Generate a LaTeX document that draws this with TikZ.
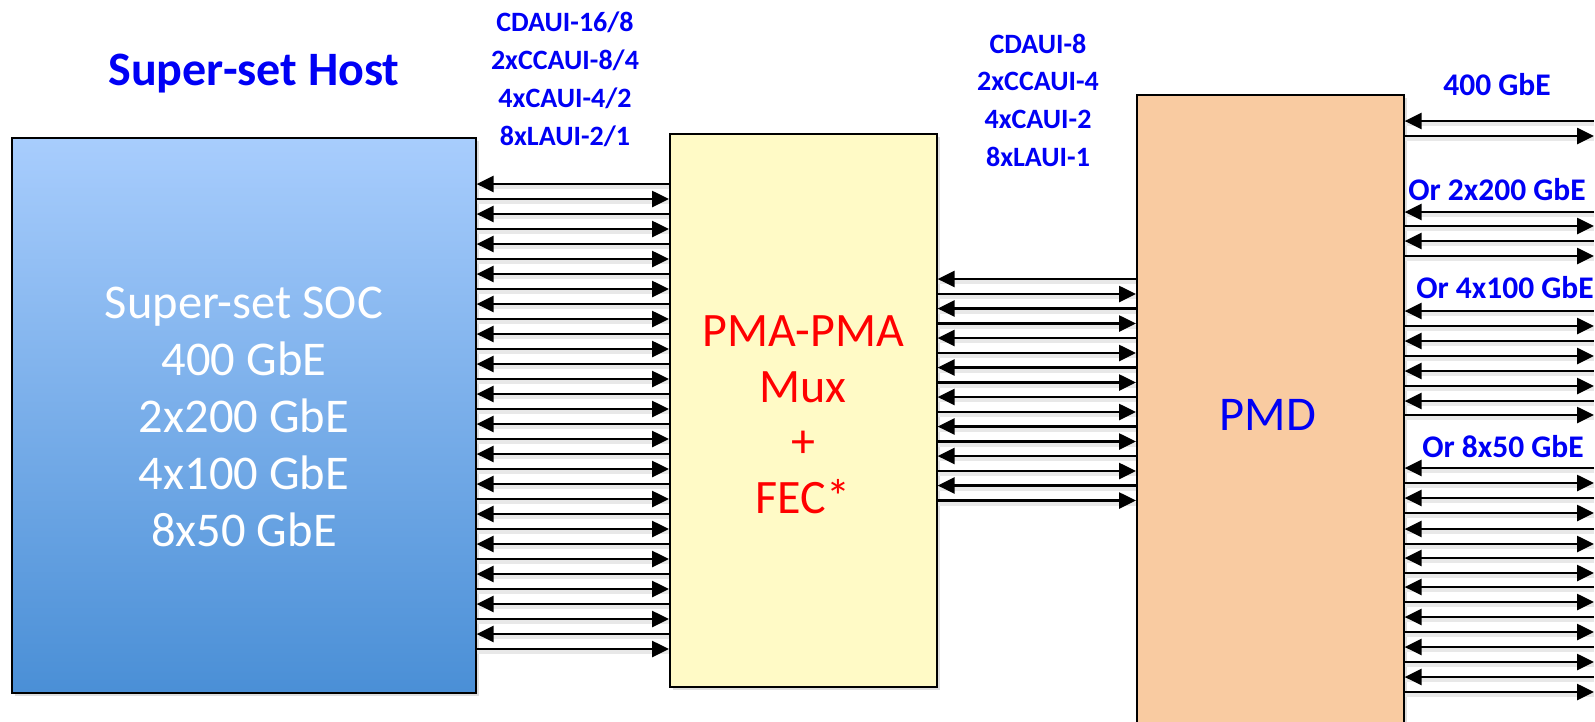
\documentclass[tikz,border=0pt]{standalone}
\usepackage{fontspec}
\setmainfont{Carlito}
\usetikzlibrary{arrows.meta,shadows}
\definecolor{socTop}{RGB}{168,205,253}
\definecolor{socBot}{RGB}{74,143,214}
\definecolor{pmaFill}{RGB}{255,250,198}
\definecolor{pmdFill}{RGB}{249,203,161}
\definecolor{lblBlue}{RGB}{0,0,245}
\definecolor{txtRed}{RGB}{255,0,0}
\tikzset{
  box/.style={draw=black, line width=1.6pt, anchor=north west, inner sep=0pt,
    drop shadow={opacity=0.25, shadow xshift=3pt, shadow yshift=-3pt}},
  bigtext/.style={font=\fontsize{48.5}{57}\selectfont, align=center},
  lbl/.style={font=\fontsize{28}{38}\selectfont\bfseries, text=lblBlue, align=center},
  lanetip/.tip={Triangle[length=17pt,width=16pt]},
  sig/.style={line width=2.6pt, -lanetip,
    preaction={draw=black!9, line width=4pt, -, transform canvas={yshift=-3pt}}},
}
\begin{document}
\begin{tikzpicture}[x=1pt,y=-1pt]
\clip (0,0) rectangle (1595,721);
\fill[white] (0,0) rectangle (1595,721);
% boxes
\node[box, top color=socTop, bottom color=socBot, minimum width=464pt, minimum height=555pt] (soc) at (11,137) {};
\node[box, fill=pmaFill, minimum width=267pt, minimum height=553pt] (pma) at (669,133) {};
\node[box, fill=pmdFill, minimum width=267pt, minimum height=660pt] (pmd) at (1136,94) {};
\coordinate (edge) at (1594,0);
% texts
\node[bigtext, text=white, font=\fontsize{48.5}{57}\selectfont] (soctxt) at (244,417) {Super-set SOC\\400 GbE\\2x200 GbE\\4x100 GbE\\8x50 GbE};
\node[bigtext, text=txtRed, font=\fontsize{48}{55.5}\selectfont] (pmatxt) at (803,415) {PMA-PMA\\Mux\\+\\FEC*};
\node[bigtext, text=lblBlue] (pmdtxt) at (1268,415) {PMD};
\node[lbl, font=\fontsize{48}{52}\selectfont\bfseries] (host) at (254,74) {Super-set Host};
\node[lbl] (l1) at (565,79) {CDAUI-16/8\\2xCCAUI-8/4\\4xCAUI-4/2\\8xLAUI-2/1};
\node[lbl, font=\fontsize{28}{37.7}\selectfont\bfseries] (l2) at (1038,100) {CDAUI-8\\2xCCAUI-4\\4xCAUI-2\\8xLAUI-1};
\node[lbl, font=\fontsize{31.5}{34}\selectfont\bfseries] (g1) at (1497,85) {400 GbE};
\node[lbl, font=\fontsize{31.5}{34}\selectfont\bfseries] (g2) at (1497,190) {Or 2x200 GbE};
\node[lbl, font=\fontsize{31.5}{34}\selectfont\bfseries] (g3) at (1505,288) {Or 4x100 GbE};
\node[lbl, font=\fontsize{31.5}{34}\selectfont\bfseries] (g4) at (1503,447) {Or 8x50 GbE};
% SOC <-> PMA lanes
\foreach \i in {0,...,15}{
  \pgfmathsetmacro{\ya}{184+30*\i}
  \pgfmathsetmacro{\yb}{199+30*\i}
  \draw[sig] (pma.west |- 0,\ya) -- (soc.east |- 0,\ya);
  \draw[sig] (soc.east |- 0,\yb) -- (pma.west |- 0,\yb);
}
% PMA <-> PMD lanes
\foreach \i in {0,...,7}{
  \pgfmathsetmacro{\ya}{279+29.5*\i}
  \pgfmathsetmacro{\yb}{294+29.5*\i}
  \draw[sig] (pmd.west |- 0,\ya) -- (pma.east |- 0,\ya);
  \draw[sig] (pma.east |- 0,\yb) -- (pmd.west |- 0,\yb);
}
% PMD line side
\foreach \ya in {121,212,241,311,341,371,401,468,498,529,558,587,617,647,677}{
  \draw[sig] (edge |- 0,\ya) -- (pmd.east |- 0,\ya);
}
\foreach \yb in {136,226,256,326,356,386,415,483,513,544,573,602,632,662,692}{
  \draw[sig] (pmd.east |- 0,\yb) -- (edge |- 0,\yb);
}
\end{tikzpicture}
\end{document}
